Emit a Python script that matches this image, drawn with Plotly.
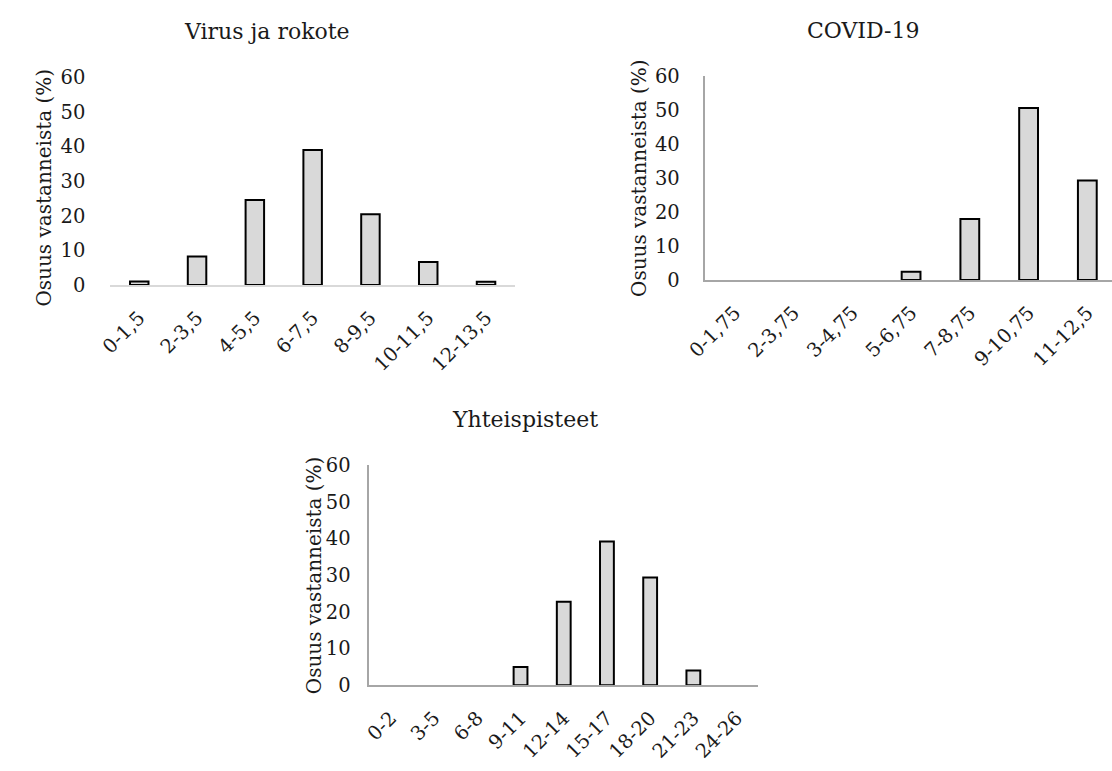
import plotly.graph_objects as go

W, H = 1112, 771

# Virus ja rokote
virus_labels = ["0-1,5", "2-3,5", "4-5,5", "6-7,5", "8-9,5", "10-11,5", "12-13,5"]
virus_values = [1.0, 8.2, 24.5, 39.0, 20.4, 6.6, 0.9]

# COVID-19
covid_labels = ["0-1,75", "2-3,75", "3-4,75", "5-6,75", "7-8,75", "9-10,75", "11-12,5"]
covid_values = [0, 0, 0, 2.4, 17.9, 50.5, 29.2]

# Yhteispisteet
total_labels = ["0-2", "3-5", "6-8", "9-11", "12-14", "15-17", "18-20", "21-23", "24-26"]
total_values = [0, 0, 0, 5.0, 22.8, 39.2, 29.4, 4.0, 0]

y_ticks = [0, 10, 20, 30, 40, 50, 60]
y_title = "Osuus vastanneista (%)"
titles = ["Virus ja rokote", "COVID-19", "Yhteispisteet"]

FONT = "DejaVu Serif"
INK = "#1a1a1a"
TICK_FONT = dict(family=FONT, size=19.5, color=INK)


def px_x(v):
    return v / W


def px_y(v):
    return 1 - v / H


def bar(labels, values, xa, ya):
    # empty classes get no outline so nothing is drawn on the baseline
    return go.Bar(
        x=labels, y=values, xaxis=xa, yaxis=ya,
        marker=dict(
            color="#d9d9d9",
            line=dict(color="#000000", width=[2 if v > 0 else 0 for v in values]),
        ),
        width=0.32, showlegend=False, hoverinfo="x+y",
    )


fig = go.Figure()
fig.add_trace(bar(virus_labels, virus_values, "x", "y"))
fig.add_trace(bar(covid_labels, covid_values, "x2", "y2"))
fig.add_trace(bar(total_labels, total_values, "x3", "y3"))


def xaxis(domain, anchor, color, rng):
    return dict(
        domain=domain, anchor=anchor, type="category", range=rng,
        showline=True, linecolor=color, linewidth=1.5,
        showgrid=False, zeroline=False, ticks="", tickangle=-45,
        tickfont=TICK_FONT, ticklabelstandoff=12, fixedrange=True,
    )


def yaxis(domain, anchor, show_line, standoff):
    return dict(
        domain=domain, anchor=anchor, range=[0, 60], tickvals=y_ticks,
        showline=show_line, linecolor="#a6a6a6", linewidth=1.5,
        showgrid=False, zeroline=False, ticks="",
        tickfont=TICK_FONT, ticklabelstandoff=standoff, fixedrange=True,
    )


fig.update_layout(
    width=W, height=H,
    margin=dict(l=0, r=0, t=0, b=0),
    paper_bgcolor="white", plot_bgcolor="white",
    xaxis=xaxis([px_x(92), px_x(504)], "y", "#d9d9d9", [-0.5, 6.5]),
    yaxis=yaxis([px_y(282.4), px_y(68.2)], "x", False, 24),
    xaxis2=xaxis([px_x(698), 1.0], "y2", "#a6a6a6", [-0.5, 6.42]),
    yaxis2=yaxis([px_y(277.3), px_y(66.7)], "x2", True, 20),
    xaxis3=xaxis([px_x(355.7), px_x(751.7)], "y3", "#a6a6a6", [-0.5, 8.5]),
    yaxis3=yaxis([px_y(695), px_y(468.3)], "x3", True, 13),
)

# chart titles
title_pos = [(252, 21), (859, 20), (514, 421)]
for text, (cx, cy) in zip(titles, title_pos):
    fig.add_annotation(
        text=text, x=px_x(cx), y=px_y(cy), xref="paper", yref="paper",
        xanchor="center", yanchor="middle", showarrow=False,
        font=dict(family=FONT, size=22, color=INK),
    )

# rotated y-axis titles
ytitle_pos = [(25, 182.5), (631, 172.5), (299, 582)]
for cx, cy in ytitle_pos:
    fig.add_annotation(
        text=y_title, x=px_x(cx), y=px_y(cy), xref="paper", yref="paper",
        xanchor="center", yanchor="middle", showarrow=False, textangle=-90,
        font=dict(family=FONT, size=20, color=INK),
    )

fig.write_html("out.html")
